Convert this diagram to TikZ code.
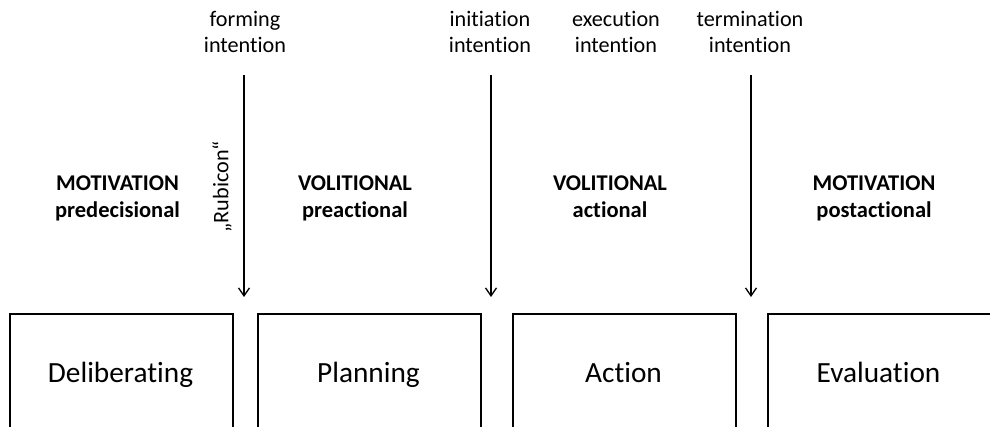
\documentclass[tikz,border=0pt]{standalone}
\usepackage{fontspec}
\setmainfont{Carlito}[Ligatures=NoCommon]
\usetikzlibrary{arrows.meta}
\begin{document}
\begin{tikzpicture}[x=1pt,y=-1pt,
  phasebox/.style={draw=black,line width=2pt,inner sep=0pt},
  boxtext/.style={anchor=base,font=\fontsize{29.3}{34}\selectfont,inner sep=0pt},
  toplbl/.style={anchor=base,font=\fontsize{22.2}{26.5}\selectfont,inner sep=0pt,align=center},
  phaselbl/.style={anchor=base,font=\fontsize{22.5}{27.5}\selectfont\bfseries,inner sep=0pt,align=center},
  transarrow/.style={line width=1.3pt,-{Straight Barb[length=8pt,width=11pt,line width=1.3pt]}}]
\useasboundingbox (0,0) rectangle (990,427);
\clip (0,0) rectangle (990,427);
% boxes
\node[phasebox,minimum width=223pt,minimum height=140pt,anchor=north west] (b1) at (9,313) {};
\node[phasebox,minimum width=223pt,minimum height=140pt,anchor=north west] (b2) at (257,313) {};
\node[phasebox,minimum width=223pt,minimum height=140pt,anchor=north west] (b3) at (512,313) {};
\node[phasebox,minimum width=223pt,minimum height=140pt,anchor=north west] (b4) at (767,313) {};
\node[boxtext] (t1) at (120.5,382) {Deliberating};
\node[boxtext] (t2) at (368.5,382) {Planning};
\node[boxtext] (t3) at (623.5,382) {Action};
\node[boxtext] (t4) at (878.5,382) {Evaluation};
% phase labels
\node[phaselbl] (p1) at (117.5,218) {MOTIVATION\\predecisional};
\node[phaselbl] (p2) at (355,218) {VOLITIONAL\\preactional};
\node[phaselbl] (p3) at (610,218) {VOLITIONAL\\actional};
\node[phaselbl] (p4) at (874,218) {MOTIVATION\\postactional};
% top labels
\node[toplbl] (l1) at (245,53) {forming\\intention};
\node[toplbl] (l2) at (490,53) {initiation\\intention};
\node[toplbl] (l3) at (616,53) {execution\\intention};
\node[toplbl] (l4) at (750,53) {termination\\intention};
% rubicon
\node[font=\fontsize{22.2}{27}\selectfont,rotate=90,inner sep=0pt] (rub) at (222,187) {„Rubicon“};
% arrows
\coordinate (a1s) at (244,75); \coordinate (a1e) at (244,297);
\coordinate (a2s) at (491,75); \coordinate (a2e) at (491,297);
\coordinate (a3s) at (751,75); \coordinate (a3e) at (751,297);
\draw[transarrow] (a1s) -- (a1e);
\draw[transarrow] (a2s) -- (a2e);
\draw[transarrow] (a3s) -- (a3e);
\end{tikzpicture}
\end{document}
